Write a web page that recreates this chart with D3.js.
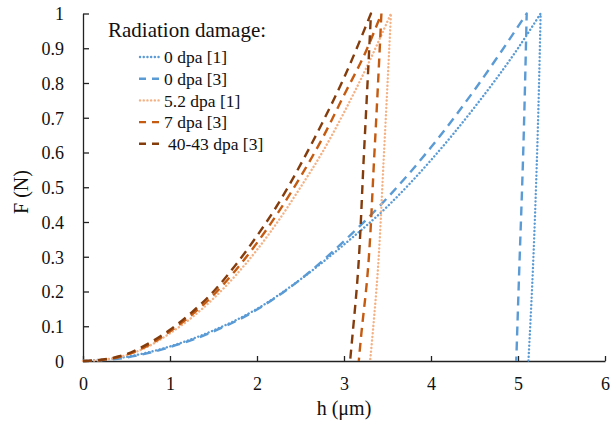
<!DOCTYPE html>
<html><head><meta charset="utf-8">
<script src="https://cdn.jsdelivr.net/npm/d3@7"></script>
<style>
body{margin:0;background:#fff;}
svg text{font-family:"Liberation Serif","DejaVu Serif",serif !important;fill:#111;}
</style></head>
<body><svg id="c" width="612" height="428"></svg>
<script>
// ---- data ----
const legendTitle = "Radiation damage:";
const seriesNames = ["0 dpa [1]", "0 dpa [3]", "5.2 dpa [1]", "7 dpa [3]", "40-43 dpa [3]"];
const xTicks = [0, 1, 2, 3, 4, 5, 6];
const yTicks = [0, 0.1, 0.2, 0.3, 0.4, 0.5, 0.6, 0.7, 0.8, 0.9, 1];

// loading curves
const hLoad_0dpa_1 = [0, 0.5, 1, 1.5, 2, 2.5, 3, 3.5, 4, 4.5, 5, 5.26];
const FLoad_0dpa_1 = [0, 0.012, 0.042, 0.088, 0.15, 0.235, 0.335, 0.445, 0.578, 0.73, 0.9, 1.0];
const hLoad_0dpa_3 = [0, 0.5, 1, 1.5, 2, 2.5, 3, 3.5, 4, 4.5, 5.1];
const FLoad_0dpa_3 = [0, 0.01, 0.04, 0.085, 0.148, 0.235, 0.345, 0.47, 0.615, 0.78, 1.0];
const hLoad_52dpa_1 = [0, 0.25, 0.5, 0.75, 1, 1.25, 1.5, 1.75, 2, 2.25, 2.5, 2.75, 3, 3.25, 3.54];
const FLoad_52dpa_1 = [0, 0.004, 0.017, 0.042, 0.08, 0.125, 0.18, 0.245, 0.32, 0.405, 0.5, 0.6, 0.715, 0.84, 1.0];
const hLoad_7dpa_3 = [0, 0.25, 0.5, 0.75, 1, 1.25, 1.5, 1.75, 2, 2.25, 2.5, 2.75, 3, 3.25, 3.43];
const FLoad_7dpa_3 = [0, 0.004, 0.018, 0.045, 0.085, 0.133, 0.19, 0.26, 0.34, 0.43, 0.53, 0.64, 0.765, 0.89, 1.0];
const hLoad_40dpa_3 = [0, 0.25, 0.5, 0.75, 1, 1.25, 1.5, 1.75, 2, 2.25, 2.5, 2.75, 3, 3.31];
const FLoad_40dpa_3 = [0, 0.005, 0.02, 0.05, 0.09, 0.14, 0.2, 0.275, 0.36, 0.455, 0.565, 0.685, 0.815, 1.0];

// unloading curves
const hUnload_0dpa_1 = [5.26, 5.22, 5.16, 5.12];
const FUnload_0dpa_1 = [1.0, 0.6, 0.2, 0];
const hUnload_0dpa_3 = [5.1, 5.06, 5.01, 4.98];
const FUnload_0dpa_3 = [1.0, 0.6, 0.23, 0];
const hUnload_52dpa_1 = [3.54, 3.46, 3.38, 3.33, 3.30];
const FUnload_52dpa_1 = [1.0, 0.6, 0.23, 0.08, 0];
const hUnload_7dpa_3 = [3.43, 3.35, 3.26, 3.20, 3.17];
const FUnload_7dpa_3 = [1.0, 0.6, 0.22, 0.08, 0];
const hUnload_40dpa_3 = [3.31, 3.23, 3.15, 3.10, 3.07];
const FUnload_40dpa_3 = [1.0, 0.6, 0.22, 0.08, 0];

const loadH = [hLoad_0dpa_1, hLoad_0dpa_3, hLoad_52dpa_1, hLoad_7dpa_3, hLoad_40dpa_3];
const loadF = [FLoad_0dpa_1, FLoad_0dpa_3, FLoad_52dpa_1, FLoad_7dpa_3, FLoad_40dpa_3];
const unloadH = [hUnload_0dpa_1, hUnload_0dpa_3, hUnload_52dpa_1, hUnload_7dpa_3, hUnload_40dpa_3];
const unloadF = [FUnload_0dpa_1, FUnload_0dpa_3, FUnload_52dpa_1, FUnload_7dpa_3, FUnload_40dpa_3];

// ---- styles ----
const colors = ["#5B9BD5", "#5B9BD5", "#F4B183", "#C55A11", "#843C0C"];
const isDot = [true, false, true, false, false];
const FONT = '"Liberation Serif","DejaVu Serif",serif';

const svg = d3.select("#c");
const x = d3.scaleLinear().domain([0, 6]).range([83, 605]);
const y = d3.scaleLinear().domain([0, 1]).range([361, 13.5]);

// axes
const xAxis = d3.axisBottom(x).tickValues(xTicks).tickSizeInner(-5).tickSizeOuter(0).tickFormat(d3.format("d"));
const yAxis = d3.axisLeft(y).tickValues(yTicks).tickSizeInner(-6).tickSizeOuter(0).tickFormat(d => d === 0 || d === 1 ? String(d) : d3.format(".1f")(d));

const gx = svg.append("g").attr("transform", `translate(0,${y(0)})`).call(xAxis);
gx.selectAll("text").attr("dy", 0).attr("y", 29).style("font-size", "18px");
const gy = svg.append("g").attr("transform", `translate(${x(0)},0)`).call(yAxis);
gy.selectAll("text").attr("x", -19).attr("dy", "0.35em").style("font-size", "18px");
[gx, gy].forEach(g => {
  g.attr("font-family", FONT);
  g.select(".domain").attr("stroke", "#222").attr("stroke-width", 1.3);
  g.selectAll(".tick line").attr("stroke", "#222").attr("stroke-width", 1.3);
  g.selectAll("text").attr("fill", "#111").attr("font-family", FONT);
});

// axis titles
svg.append("text").attr("x", 344).attr("y", 415).attr("text-anchor", "middle").attr("font-family", FONT).style("font-size", "20px").text("h (\u03bcm)");
svg.append("text").attr("transform", "translate(28,192) rotate(-90)").attr("text-anchor", "middle").attr("font-family", FONT).style("font-size", "20px").text("F (N)");

// lines
const curveLine = d3.line().x(d => x(d[0])).y(d => y(d[1])).curve(d3.curveMonotoneX);
const straightLine = d3.line().x(d => x(d[0])).y(d => y(d[1])).curve(d3.curveMonotoneY);
seriesNames.forEach((name, i) => {
  const lp = loadH[i].map((h, j) => [h, loadF[i][j]]);
  const up = unloadH[i].map((h, j) => [h, unloadF[i][j]]);
  const d = curveLine(lp) + straightLine(up).replace(/^M/, "L");
  svg.append("path").attr("d", d)
    .attr("fill", "none").attr("stroke", colors[i]).attr("stroke-width", 2.4)
    .attr("stroke-dasharray", isDot[i] ? "0.1,3.6" : "9,6")
    .attr("stroke-linecap", isDot[i] ? "round" : "butt")
    .attr("stroke-linejoin", "round");
});

// legend
svg.append("text").attr("x", 108).attr("y", 37).attr("font-family", FONT).style("font-size", "21px").text(legendTitle);
const ly0 = 57, lstep = 21.7;
seriesNames.forEach((name, i) => {
  const yy = ly0 + i * lstep;
  svg.append("line").attr("x1", isDot[i] ? 140 : 139).attr("x2", 162).attr("y1", yy).attr("y2", yy)
    .attr("stroke", colors[i]).attr("stroke-width", 2.4)
    .attr("stroke-dasharray", isDot[i] ? "0.1,3.6" : "7,6")
    .attr("stroke-linecap", isDot[i] ? "round" : "butt");
  svg.append("text").attr("x", i === 4 ? 168 : 164).attr("y", yy).attr("dy", "0.35em")
    .attr("font-family", FONT).style("font-size", "17.5px").text(name);
});
</script></body></html>
